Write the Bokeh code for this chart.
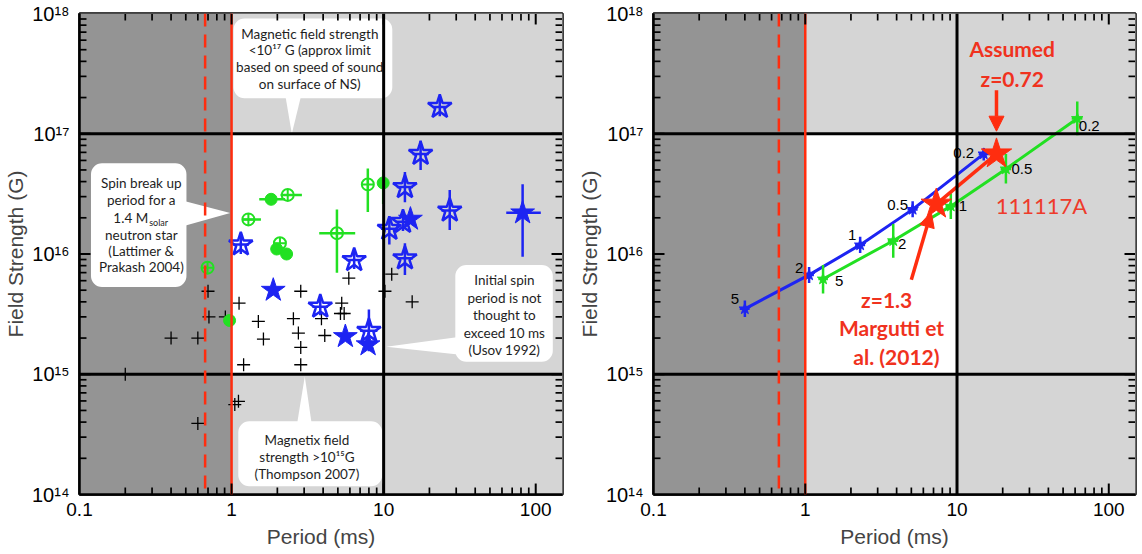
import math
from bokeh.plotting import figure
from bokeh.layouts import row
from bokeh.models import CustomJSTickFormatter, Span, Arrow, NormalHead
from bokeh.core.properties import value
from bokeh.embed import file_html
from bokeh.resources import INLINE

# ---------------- axis ranges & thresholds ----------------
period_range = (0.1, 150.0)
field_range = (1e14, 1e18)
period_dashed = 0.67          # dashed red line (ms)
period_breakup = 1.0          # solid red line (ms)
period_max = 10.0             # black vertical line (ms)
field_min = 1e15              # black horizontal line (G)
field_max = 1e17              # black horizontal line (G)

# ---------------- left panel data ----------------
cross_period = [0.70, 1.12, 0.71, 0.91, 1.5, 0.40, 0.60, 1.2, 0.20, 1.05, 1.11, 0.60,
                1.62, 2.85, 2.55, 2.75, 2.85, 2.85, 3.9, 4.1, 5.3, 5.2, 5.5, 5.9,
                11.3, 10.2, 15.4]
cross_field = [4.9e15, 3.9e15, 3.0e15, 3.0e15, 2.75e15, 2.0e15, 2.0e15, 1.2e15, 1.0e15,
               5.6e14, 5.95e14, 3.9e14, 1.96e15, 4.9e15, 2.9e15, 2.2e15, 1.67e15, 1.2e15,
               2.9e15, 2.1e15, 3.9e15, 3.2e15, 3.2e15, 6.3e15, 6.8e15, 4.9e15, 4.0e15]

green_filled_period = [0.97, 1.82, 1.98, 2.3, 9.93]
green_filled_field = [2.8e15, 2.85e16, 1.1e16, 1.0e16, 3.9e16]
green_open_period = [0.695, 1.29, 2.34, 2.08, 4.93, 7.87]
green_open_field = [7.7e15, 1.94e16, 3.1e16, 1.23e16, 1.49e16, 3.79e16]

green_err_period = [1.29, 1.82, 2.34, 4.93, 7.87, 9.93]
green_err_field = [1.94e16, 2.85e16, 3.1e16, 1.49e16, 3.79e16, 3.9e16]
green_err_period_lo = [1.19, 1.52, 2.1, 3.77, 7.87, 9.93]
green_err_period_hi = [1.56, 2.25, 2.9, 6.5, 7.87, 9.93]
green_err_field_lo = [1.94e16, 2.85e16, 3.1e16, 7.0e15, 2.24e16, 2.6e16]
green_err_field_hi = [1.94e16, 2.85e16, 3.1e16, 2.35e16, 5.15e16, 5.0e16]

blue_open_period = [1.15, 3.83, 6.4, 8.0, 10.9, 13.4, 13.8, 17.5, 23.4, 13.8, 27.2]
blue_open_field = [1.2e16, 3.65e15, 8.9e15, 2.3e15, 1.62e16, 1.85e16, 3.6e16, 6.8e16, 1.67e17, 9.2e15, 2.3e16]
blue_open_period_lo = [1.02, 3.4, 5.7, 7.0, 9.6, 12.0, 12.2, 15.5, 21.0, 12.2, 24.0]
blue_open_period_hi = [1.3, 4.3, 7.2, 9.1, 12.3, 15.0, 15.6, 19.8, 26.0, 15.6, 30.0]
blue_open_field_lo = [1.0e16, 3.1e15, 7.5e15, 1.55e15, 1.2e16, 1.55e16, 2.7e16, 5.0e16, 1.4e17, 6.7e15, 1.58e16]
blue_open_field_hi = [1.43e16, 4.3e15, 1.06e16, 3.45e15, 2.05e16, 2.2e16, 4.8e16, 8.8e16, 2.05e17, 1.23e16, 3.4e16]

blue_filled_period = [1.88, 5.6, 7.9, 15.0, 82.0]
blue_filled_field = [5.0e15, 2.06e15, 1.76e15, 1.95e16, 2.2e16]
blue_filled_period_lo = [1.88, 5.6, 7.9, 15.0, 64.0]
blue_filled_period_hi = [1.88, 5.6, 7.9, 15.0, 108.0]
blue_filled_field_lo = [5.0e15, 2.06e15, 1.76e15, 1.95e16, 9.5e15]
blue_filled_field_hi = [5.0e15, 2.06e15, 1.76e15, 1.95e16, 3.8e16]

# ---------------- left panel callouts ----------------
callout_left = [1.03, 0.119, 29.6, 1.107]
callout_right = [11.4, 0.505, 129.5, 9.78]
callout_bottom = [1.97e17, 5.32e15, 1.27e15, 1.17e14]
callout_top = [9.1e17, 5.69e16, 8.1e15, 4.06e14]
pointer_xs = [[2.24, 2.90, 2.49], [0.46, 0.46, 0.98], [32.0, 32.0, 10.4], [2.69, 3.37, 3.03]]
pointer_ys = [[2.2e17, 2.2e17, 1.0e17], [2.81e16, 1.68e16, 2.19e16],
              [2.05e15, 1.45e15, 1.69e15], [3.8e14, 3.8e14, 9.6e14]]
callout_text = ["Magnetic field strength", "<10\u00b9\u2077 G (approx limit",
                "based on speed of sound", "on surface of NS)",
                "Spin break up", "period for a", "neutron star", "(Lattimer &", "Prakash 2004)",
                "Initial spin", "period is not", "thought to", "exceed 10 ms", "(Usov 1992)",
                "Magnetix field", "strength >10\u00b9\u2075G", "(Thompson 2007)"]
callout_text_x = [3.27] * 4 + [0.255] * 5 + [62.2] * 5 + [3.13] * 3
callout_text_y = [6.78e17, 4.93e17, 3.58e17, 2.61e17,
                  3.86e16, 2.81e16, 1.44e16, 1.05e16, 7.85e15,
                  6.08e15, 4.29e15, 3.12e15, 2.22e15, 1.60e15,
                  2.86e14, 2.05e14, 1.49e14]
mass_text = ["1.4 M", "solar"]
mass_x = [0.283, 0.283]
mass_y = [1.98e16, 1.98e16]

# ---------------- right panel data ----------------
z_labels = ["5", "2", "1", "0.5", "0.2"]
blue_z_period = [0.40, 1.06, 2.3, 5.1, 15.0]
blue_z_field = [3.5e15, 6.7e15, 1.19e16, 2.35e16, 6.8e16]
blue_z_field_lo = [3.0e15, 5.75e15, 1.02e16, 2.02e16, 6.0e16]
blue_z_field_hi = [4.1e15, 7.8e15, 1.39e16, 2.74e16, 7.6e16]
blue_z_period_lo = [0.37, 0.98, 2.13, 4.72, 13.9]
blue_z_period_hi = [0.43, 1.14, 2.48, 5.5, 16.2]
green_z_period = [1.31, 3.8, 9.1, 21.0, 62.0]
green_z_field = [6.2e15, 1.29e16, 2.5e16, 5.1e16, 1.34e17]
green_z_field_lo = [4.7e15, 9.3e15, 1.95e16, 3.85e16, 9.7e16]
green_z_field_hi = [8.1e15, 1.78e16, 3.2e16, 6.8e16, 1.85e17]
green_z_period_lo = [1.22, 3.5, 8.4, 19.4, 57.0]
green_z_period_hi = [1.41, 4.1, 9.8, 22.7, 67.0]
grb_period = [7.3, 18.2]
grb_field = [2.6e16, 6.8e16]

red_text = ["Assumed", "z=0.72", "z=1.3", "Margutti et", "al. (2012)"]
red_text_x = [23.1, 23.1, 3.44, 3.7, 3.99]
red_text_y = [5.1e17, 2.89e17, 4.15e15, 2.43e15, 1.40e15]
grb_name = ["111117A"]
grb_name_x = [36.0]
grb_name_y = [2.55e16]
arrow_x0 = [18.2, 5.0]
arrow_y0 = [2.3e17, 6.1e15]
arrow_x1 = [18.2, 6.76]
arrow_y1 = [1.05e17, 2.23e16]

# ---------------- styles ----------------
DARK = "#949494"
LIGHT = "#d5d5d5"
RED = "#ff2d0f"
REDTXT = "#f0321e"
BLUE = "#1d24f2"
GREEN = "#22e022"
AXFONT = "Liberation Sans"
CFONT = "Lato"
FIG_H = 550
BORDER_TOP = 13
BORDER_BOTTOM = 55
MAJOR_LEN = 11
MINOR_LEN = 7

XFMT_CODE = """
const e = Math.round(Math.log10(tick));
return e < 0 ? tick.toFixed(-e) : Math.round(tick).toString();
"""
YFMT_CODE = """
const e = Math.round(Math.log10(tick));
const sup = {"0":"\u2070","1":"\u00b9","2":"\u00b2","3":"\u00b3","4":"\u2074","5":"\u2075","6":"\u2076","7":"\u2077","8":"\u2078","9":"\u2079","-":"\u207b"};
return "10" + String(e).split("").map(c => sup[c]).join("");
"""


def log_ticks(lo, hi):
    """Major (decade) and minor (2..9 x decade) tick values strictly inside the range."""
    major, minor = [], []
    for d in range(int(math.floor(math.log10(lo))), int(math.ceil(math.log10(hi))) + 1):
        for k in range(1, 10):
            v = k * 10.0 ** d
            if lo * 1.001 <= v <= hi * 0.999:
                (major if k == 1 else minor).append(v)
    return major, minor


def make_panel(width, border_left, border_right):
    p = figure(width=width, height=FIG_H, x_axis_type="log", y_axis_type="log",
               x_range=period_range, y_range=field_range,
               output_backend="svg", toolbar_location=None,
               min_border_left=border_left, min_border_right=border_right,
               min_border_top=BORDER_TOP, min_border_bottom=BORDER_BOTTOM)
    p.xgrid.visible = False
    p.ygrid.visible = False
    p.outline_line_color = "black"
    p.outline_line_width = 2.5
    p.background_fill_color = "white"

    # shaded regions
    p.quad(left=[0.01], right=[period_breakup], bottom=[1e12], top=[1e20],
           fill_color=DARK, line_color=None)
    p.quad(left=[period_breakup, period_breakup, period_max],
           right=[1e4, 1e4, 1e4],
           bottom=[field_max, 1e12, field_min],
           top=[1e20, field_min, field_max],
           fill_color=LIGHT, line_color=None)

    for loc in (field_min, field_max):
        p.add_layout(Span(location=loc, dimension="width", line_color="black", line_width=3))
    p.add_layout(Span(location=period_max, dimension="height", line_color="black", line_width=3))
    p.add_layout(Span(location=period_breakup, dimension="height", line_color=RED, line_width=2.5))
    p.add_layout(Span(location=period_dashed, dimension="height", line_color=RED,
                      line_width=2.5, line_dash="13 8"))

    # inward ticks on all four sides: segments starting just inside the frame edge
    frame_w = width - border_left - border_right
    frame_h = FIG_H - BORDER_TOP - BORDER_BOTTOM
    ppd_x = frame_w / math.log10(period_range[1] / period_range[0])
    ppd_y = frame_h / math.log10(field_range[1] / field_range[0])
    xmaj, xmin = log_ticks(*period_range)
    ymaj, ymin = log_ticks(*field_range)
    fy0 = 10 ** (0.5 / ppd_y)
    fx0 = 10 ** (0.5 / ppd_x)
    for vals, length, lw in ((xmaj, MAJOR_LEN, 2.0), (xmin, MINOR_LEN, 1.7)):
        f = 10 ** (length / ppd_y)
        n = len(vals)
        p.segment(x0=vals * 2, x1=vals * 2,
                  y0=[field_range[0] * fy0] * n + [field_range[1] / fy0] * n,
                  y1=[field_range[0] * f] * n + [field_range[1] / f] * n,
                  line_color="black", line_width=lw, level="overlay")
    for vals, length, lw in ((ymaj, MAJOR_LEN, 2.0), (ymin, MINOR_LEN, 1.7)):
        f = 10 ** (length / ppd_x)
        n = len(vals)
        p.segment(y0=vals * 2, y1=vals * 2,
                  x0=[period_range[0] * fx0] * n + [period_range[1] / fx0] * n,
                  x1=[period_range[0] * f] * n + [period_range[1] / f] * n,
                  line_color="black", line_width=lw, level="overlay")

    xa = p.xaxis[0]
    ya = p.yaxis[0]
    for ax in (xa, ya):
        ax.major_tick_in = 0
        ax.major_tick_out = 0
        ax.minor_tick_in = 0
        ax.minor_tick_out = 0
        ax.axis_line_width = 2.5
        ax.axis_label_text_font = AXFONT
        ax.axis_label_text_font_size = "21px"
        ax.axis_label_text_font_style = "normal"
        ax.major_label_text_font = AXFONT
        ax.major_label_text_color = "black"
    xa.formatter = CustomJSTickFormatter(code=XFMT_CODE)
    ya.formatter = CustomJSTickFormatter(code=YFMT_CODE)
    xa.axis_label = "Period (ms)"
    ya.axis_label = "Field Strength (G)"
    xa.major_label_text_font_size = "19px"
    ya.major_label_text_font_size = "20px"
    xa.major_label_standoff = 8
    ya.major_label_standoff = 10
    xa.axis_label_standoff = 6
    ya.axis_label_standoff = 2
    return p


# ================= LEFT PANEL =================
p1 = make_panel(572, 78, 10)

p1.scatter(cross_period, cross_field, marker="cross", size=13,
           line_color="black", line_width=1.3)

# green
p1.segment(x0=green_err_period_lo, y0=green_err_field, x1=green_err_period_hi, y1=green_err_field,
           line_color=GREEN, line_width=2.5)
p1.segment(x0=green_err_period, y0=green_err_field_lo, x1=green_err_period, y1=green_err_field_hi,
           line_color=GREEN, line_width=2.5)
p1.scatter(green_filled_period, green_filled_field, marker="circle", size=12,
           fill_color=GREEN, line_color=GREEN)
p1.scatter(green_open_period, green_open_field, marker="circle_cross", size=12,
           fill_color=None, line_color=GREEN, line_width=2)

# blue
p1.segment(x0=blue_open_period_lo, y0=blue_open_field, x1=blue_open_period_hi, y1=blue_open_field,
           line_color=BLUE, line_width=2.5)
p1.segment(x0=blue_open_period, y0=blue_open_field_lo, x1=blue_open_period, y1=blue_open_field_hi,
           line_color=BLUE, line_width=2.5)
p1.scatter(blue_open_period, blue_open_field, marker="star", size=25,
           fill_color=None, line_color=BLUE, line_width=2.5)
p1.segment(x0=blue_filled_period_lo, y0=blue_filled_field, x1=blue_filled_period_hi, y1=blue_filled_field,
           line_color=BLUE, line_width=2.5)
p1.segment(x0=blue_filled_period, y0=blue_filled_field_lo, x1=blue_filled_period, y1=blue_filled_field_hi,
           line_color=BLUE, line_width=2.5)
p1.scatter(blue_filled_period, blue_filled_field, marker="star", size=25,
           fill_color=BLUE, line_color=BLUE)

# callouts
p1.quad(left=callout_left, right=callout_right, bottom=callout_bottom, top=callout_top,
        fill_color="white", line_color=None, border_radius=11, level="annotation")
p1.patches(xs=pointer_xs, ys=pointer_ys, fill_color="white", line_color=None, level="annotation")
p1.text(x=callout_text_x, y=callout_text_y, text=callout_text,
        text_font=value(CFONT), text_font_size="13.5px", text_color="#1e1e1e",
        text_align="center", text_baseline="middle", level="annotation")
p1.text(x=mass_x[:1], y=mass_y[:1], text=mass_text[:1],
        text_font=value(CFONT), text_font_size="13.5px", text_color="#1e1e1e",
        text_align="right", text_baseline="middle", level="annotation")
p1.text(x=mass_x[1:], y=mass_y[1:], text=mass_text[1:], y_offset=4, x_offset=1,
        text_font=value(CFONT), text_font_size="9px", text_color="#1e1e1e",
        text_align="left", text_baseline="middle", level="annotation")

# ================= RIGHT PANEL =================
p2 = make_panel(569, 81, 6)

p2.line(blue_z_period, blue_z_field, line_color=BLUE, line_width=3)
p2.segment(x0=blue_z_period, y0=blue_z_field_lo, x1=blue_z_period, y1=blue_z_field_hi,
           line_color=BLUE, line_width=2.5)
p2.segment(x0=blue_z_period_lo, y0=blue_z_field, x1=blue_z_period_hi, y1=blue_z_field,
           line_color=BLUE, line_width=2.5)
p2.scatter(blue_z_period, blue_z_field, marker="star", size=12, fill_color=BLUE, line_color=BLUE)

p2.line(green_z_period, green_z_field, line_color=GREEN, line_width=3)
p2.segment(x0=green_z_period, y0=green_z_field_lo, x1=green_z_period, y1=green_z_field_hi,
           line_color=GREEN, line_width=2.5)
p2.segment(x0=green_z_period_lo, y0=green_z_field, x1=green_z_period_hi, y1=green_z_field,
           line_color=GREEN, line_width=2.5)
p2.scatter(green_z_period, green_z_field, marker="star", size=12, fill_color=GREEN, line_color=GREEN)

p2.line(grb_period, grb_field, line_color=RED, line_width=3.5)
p2.scatter(grb_period, grb_field, marker="star", size=32, fill_color=RED, line_color=RED)

p2.text(x=blue_z_period, y=blue_z_field, text=z_labels,
        x_offset=[-10, -10, -8, -15, -20], y_offset=[-10, -7, -10, -4, -1],
        text_font=value(AXFONT), text_font_size="15px", text_color="black",
        text_align="center", text_baseline="middle")
p2.text(x=green_z_period, y=green_z_field, text=z_labels,
        x_offset=[16, 9, 12, 16, 12], y_offset=[2, 3, 0, 0, 8],
        text_font=value(AXFONT), text_font_size="15px", text_color="black",
        text_align="center", text_baseline="middle")

for i in range(len(arrow_x0)):
    p2.add_layout(Arrow(x_start=arrow_x0[i], y_start=arrow_y0[i],
                        x_end=arrow_x1[i], y_end=arrow_y1[i],
                        line_color=RED, line_width=3.5,
                        end=NormalHead(size=15, fill_color=RED, line_color=RED)))

p2.text(x=red_text_x, y=red_text_y, text=red_text,
        text_font=value(CFONT), text_font_size="21px", text_color=REDTXT,
        text_font_style="bold", text_align="center", text_baseline="middle")
p2.text(x=grb_name_x, y=grb_name_y, text=grb_name,
        text_font=value(CFONT), text_font_size="22px", text_color="#ee3b2b",
        text_align="center", text_baseline="middle")

layout = row(p1, p2)
html = file_html(layout, INLINE)
open("out.html", "w").write(html)
